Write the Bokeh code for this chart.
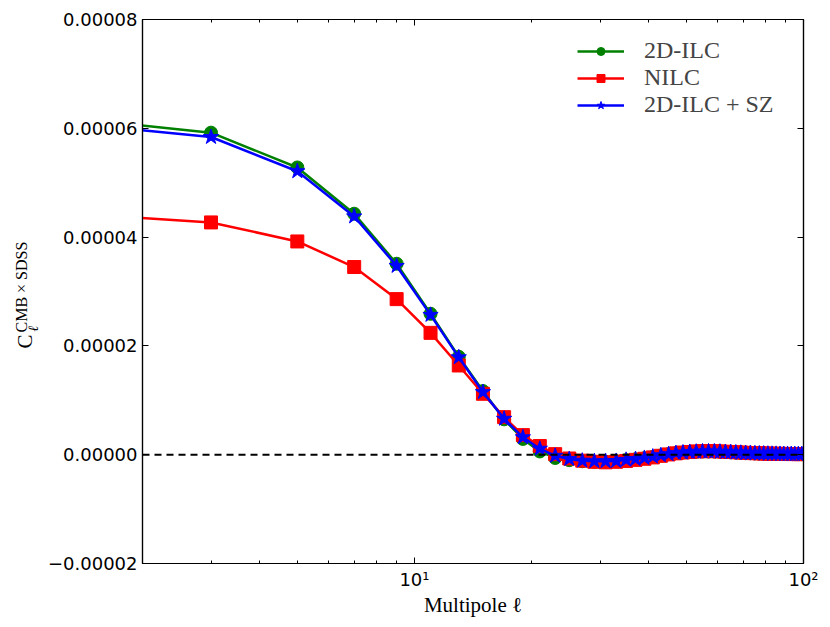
import math
from bokeh.plotting import figure
from bokeh.layouts import row
from bokeh.models import (FixedTicker, Span, Label, LinearAxis, LogAxis,
                          CustomJSTickFormatter, Legend, LegendItem)
from bokeh.embed import file_html
from bokeh.resources import INLINE

# ---- data -------------------------------------------------------------
ell = [1, 3, 5, 7, 9, 11, 13, 15, 17, 19, 21, 23, 25, 27, 29, 31, 33, 35, 37, 39,
       41, 43, 45, 47, 49, 51, 53, 55, 57, 59, 61, 63, 65, 67, 69, 71, 73, 75, 77, 79,
       81, 83, 85, 87, 89, 91, 93, 95, 97, 99]

ilc2d = [6.27e-5, 5.92e-5, 5.28e-5, 4.43e-5, 3.51e-5, 2.59e-5, 1.80e-5, 1.17e-5, 0.65e-5, 0.29e-5,
         0.06e-5, -0.06e-5, -0.10e-5, -0.12e-5, -0.13e-5, -0.13e-5, -0.12e-5, -0.10e-5, -0.085e-5, -0.065e-5,
         -0.04e-5, -0.015e-5, 0.01e-5, 0.03e-5, 0.04e-5, 0.05e-5, 0.055e-5, 0.06e-5, 0.06e-5, 0.06e-5,
         0.055e-5, 0.05e-5, 0.045e-5, 0.04e-5, 0.035e-5, 0.03e-5, 0.028e-5, 0.025e-5, 0.022e-5, 0.02e-5,
         0.018e-5, 0.016e-5, 0.015e-5, 0.014e-5, 0.013e-5, 0.012e-5, 0.012e-5, 0.011e-5, 0.011e-5, 0.01e-5]

nilc = [4.49e-5, 4.27e-5, 3.92e-5, 3.45e-5, 2.86e-5, 2.24e-5, 1.64e-5, 1.12e-5, 0.69e-5, 0.36e-5,
        0.16e-5, 0.01e-5, -0.07e-5, -0.11e-5, -0.13e-5, -0.14e-5, -0.13e-5, -0.115e-5, -0.095e-5, -0.075e-5,
        -0.05e-5, -0.02e-5, 0.005e-5, 0.025e-5, 0.04e-5, 0.05e-5, 0.06e-5, 0.065e-5, 0.065e-5, 0.065e-5,
        0.06e-5, 0.055e-5, 0.05e-5, 0.045e-5, 0.04e-5, 0.035e-5, 0.03e-5, 0.028e-5, 0.025e-5, 0.022e-5,
        0.02e-5, 0.018e-5, 0.016e-5, 0.015e-5, 0.014e-5, 0.013e-5, 0.012e-5, 0.012e-5, 0.011e-5, 0.01e-5]

ilc2d_sz = [6.17e-5, 5.84e-5, 5.21e-5, 4.38e-5, 3.47e-5, 2.57e-5, 1.79e-5, 1.15e-5, 0.66e-5, 0.32e-5,
            0.11e-5, -0.02e-5, -0.08e-5, -0.11e-5, -0.12e-5, -0.12e-5, -0.115e-5, -0.095e-5, -0.08e-5, -0.06e-5,
            -0.035e-5, -0.01e-5, 0.01e-5, 0.03e-5, 0.04e-5, 0.05e-5, 0.055e-5, 0.06e-5, 0.06e-5, 0.06e-5,
            0.055e-5, 0.05e-5, 0.045e-5, 0.04e-5, 0.035e-5, 0.03e-5, 0.028e-5, 0.025e-5, 0.022e-5, 0.02e-5,
            0.018e-5, 0.016e-5, 0.015e-5, 0.014e-5, 0.013e-5, 0.012e-5, 0.012e-5, 0.011e-5, 0.011e-5, 0.01e-5]

series_names = ["2D-ILC", "NILC", "2D-ILC + SZ"]

x_major_ticks = [10, 100]
x_tick_labels = ["10\u00b9", "10\u00b2"]
x_minor_ticks = [2, 3, 4, 5, 6, 7, 8, 9, 20, 30, 40, 50, 60, 70, 80, 90]
y_ticks = [-2e-5, 0.0, 2e-5, 4e-5, 6e-5, 8e-5]
y_tick_labels = ["\u22120.00002", "0.00000", "0.00002", "0.00004", "0.00006", "0.00008"]

H = 627
LABEL_W = 40
FRAME_BOTTOM = 563   # page y of the plot frame bottom (frames are aligned in the row)

# ---- main figure ------------------------------------------------------
p = figure(width=830 - LABEL_W, height=H, x_axis_type="log", x_range=(2, 100),
           y_range=(-2e-5, 8e-5), output_backend="svg", toolbar_location=None,
           min_border_left=142 - LABEL_W, min_border_right=27, min_border_top=19,
           min_border_bottom=H - FRAME_BOTTOM)
p.grid.visible = False
p.outline_line_color = "black"
p.outline_line_width = 1.2
p.background_fill_color = "white"
p.border_fill_color = "white"

tick_font = "DejaVu Sans"
serif = "Liberation Serif"

xfmt = CustomJSTickFormatter(args=dict(t=x_major_ticks, l=x_tick_labels),
                             code="const i = t.indexOf(Math.round(tick)); return i >= 0 ? l[i] : '';")
yfmt = CustomJSTickFormatter(args=dict(t=y_ticks, l=y_tick_labels),
                             code="let b=0, d=1e9; for (let i=0;i<t.length;i++){const e=Math.abs(t[i]-tick); if(e<d){d=e;b=i;}} return l[b];")
empty = CustomJSTickFormatter(code="return '';")

xa = p.xaxis[0]
xa.ticker = FixedTicker(ticks=x_major_ticks, minor_ticks=x_minor_ticks)
xa.formatter = xfmt
ya = p.yaxis[0]
ya.ticker = FixedTicker(ticks=y_ticks, minor_ticks=[])
ya.formatter = yfmt

for ax in (xa, ya):
    ax.major_tick_in = 6
    ax.major_tick_out = 0
    ax.minor_tick_in = 3
    ax.minor_tick_out = 0
    ax.axis_line_color = "black"
    ax.axis_line_width = 1.2
    ax.major_tick_line_color = "black"
    ax.minor_tick_line_color = "black"
    ax.major_label_text_font = tick_font
    ax.major_label_text_font_size = "18px"
    ax.major_label_text_color = "black"
ya.major_label_standoff = 5
xa.major_label_standoff = 5

xa.axis_label = "Multipole \u2113"
xa.axis_label_text_font = serif
xa.axis_label_text_font_size = "21px"
xa.axis_label_text_font_style = "normal"
xa.axis_label_text_color = "black"
xa.axis_label_standoff = 0

ra = LinearAxis(ticker=FixedTicker(ticks=y_ticks, minor_ticks=[]), formatter=empty,
                major_tick_in=6, major_tick_out=0, minor_tick_in=0, minor_tick_out=0,
                major_label_text_font_size="1px", major_label_standoff=0,
                axis_line_color="black", axis_line_width=1.2)
p.add_layout(ra, "right")
ta = LogAxis(ticker=FixedTicker(ticks=x_major_ticks, minor_ticks=x_minor_ticks), formatter=empty,
             major_tick_in=6, major_tick_out=0, minor_tick_in=3, minor_tick_out=0,
             major_label_text_font_size="1px", major_label_standoff=0,
             axis_line_color="black", axis_line_width=1.2)
p.add_layout(ta, "above")

# zero line
p.add_layout(Span(location=0, dimension="width", line_color="black",
                  line_dash="7 5", line_width=2))

# ---- series -----------------------------------------------------------
colors = ["#008000", "#ff0000", "#0000ff"]
markers = ["circle", "square", "star"]
sizes = [13, 13, 16]
items = []
for name, vals, c, m, s in zip(series_names, [ilc2d, nilc, ilc2d_sz], colors, markers, sizes):
    ln = p.line(ell, vals, line_color=c, line_width=2.5)
    sc = p.scatter(ell, vals, marker=m, size=s, fill_color=c, line_color=c)
    items.append(LegendItem(label=name, renderers=[ln, sc]))

legend = Legend(items=items, location="top_right", border_line_alpha=0,
                background_fill_alpha=0, label_text_font=serif,
                label_text_font_size="24px", glyph_width=47, glyph_height=20,
                label_standoff=20, spacing=0, padding=4, margin=14,
                label_width=141)
p.add_layout(legend)

# ---- y axis label (C_ell^{CMB x SDSS}) in a narrow side panel ----------
lab = figure(width=LABEL_W, height=H, output_backend="svg", toolbar_location=None,
             x_axis_location=None, y_axis_location=None, min_border=0,
             x_range=(0, 1), y_range=(0, 1))
lab.grid.visible = False
lab.outline_line_color = None
lab.background_fill_color = "white"
lab.border_fill_color = "white"

lab.add_layout(Label(x=24, y=FRAME_BOTTOM - 341, x_units="screen", y_units="screen", text="C",
                     angle=math.pi / 2, text_align="center", text_baseline="alphabetic",
                     text_font=serif, text_font_size="21px", text_color="black"))
lab.add_layout(Label(x=21, y=FRAME_BOTTOM - 332, x_units="screen", y_units="screen",
                     text="CMB \u00d7 SDSS",
                     angle=math.pi / 2, text_align="left", text_baseline="alphabetic",
                     text_font=serif, text_font_size="16px", text_color="black"))
lab.add_layout(Label(x=33, y=FRAME_BOTTOM - 331, x_units="screen", y_units="screen", text="\u2113",
                     angle=math.pi / 2, text_align="left", text_baseline="alphabetic",
                     text_font=serif, text_font_size="14px", text_font_style="italic",
                     text_color="black"))

layout = row(lab, p, spacing=0)
open("out.html", "w").write(file_html(layout, INLINE))
